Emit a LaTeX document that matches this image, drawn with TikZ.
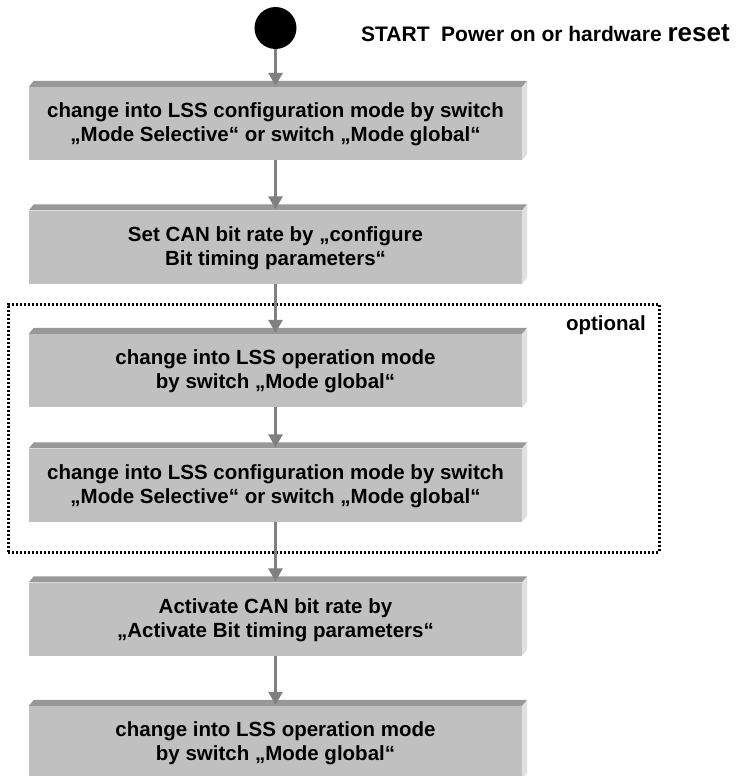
\documentclass[tikz,border=0pt]{standalone}
\usepackage{fontspec}
\setmainfont{Liberation Sans}
\usetikzlibrary{arrows.meta,calc}
\definecolor{facegray}{RGB}{192,192,192}
\definecolor{topgray}{RGB}{152,152,152}
\definecolor{sidegray}{RGB}{224,224,224}
\definecolor{arrowgray}{RGB}{128,128,128}
\tikzset{
  facebox/.style={fill=facegray, minimum width=493pt, minimum height=73pt,
    inner sep=0pt, align=center, font=\fontsize{20.5}{24}\selectfont\bfseries},
  toppart/.style={fill=topgray},
  sidepart/.style={fill=sidegray},
  flowarrow/.style={draw=arrowgray, line width=3pt,
    -{Triangle[width=14pt,length=13pt,fill=arrowgray]}},
  optframe/.style={draw=black, line width=3pt, dash pattern=on 2.4pt off 1.6pt,
    minimum width=651pt, minimum height=248pt, inner sep=0pt},
  labeltext/.style={font=\fontsize{20.5}{24}\selectfont\bfseries, inner sep=0pt}
}
\newcommand\lssbox[3]{%
  \node[facebox] (#1) at (275.5,#2) {\rule{0pt}{17pt}#3};
  \fill[toppart] (#1.north west) -- ([xshift=5pt,yshift=6pt]#1.north west)
     -- ([xshift=5pt,yshift=6pt]#1.north east) -- (#1.north east) -- cycle;
  \fill[sidepart] (#1.north east) -- ([xshift=5pt,yshift=6pt]#1.north east)
     -- ([xshift=5pt,yshift=6pt]#1.south east) -- (#1.south east) -- cycle;
}
\begin{document}
\begin{tikzpicture}[x=1pt,y=-1pt]
\useasboundingbox (0,0) rectangle (738,776);
% optional frame
\node[optframe] (opt) at (333.5,428) {};
\node[labeltext, anchor=base east] (optlabel) at (646,330) {optional};
% start
\node[circle, fill=black, minimum size=42pt, inner sep=0pt] (start) at (275.5,28) {};
\node[labeltext, anchor=base west, font=\fontsize{21}{24}\selectfont\bfseries] (startlabel) at (361,42)
  {START\hspace{0.55em}Power on or hardware {\fontsize{26}{30}\selectfont reset}};
% boxes
\lssbox{b1}{123.5}{change into LSS configuration mode by switch\\„Mode Selective“ or switch „Mode global“}
\lssbox{b2}{247}{Set CAN bit rate by „configure\\Bit timing parameters“}
\lssbox{b3}{370.5}{change into LSS operation mode\\by switch „Mode global“}
\lssbox{b4}{485}{change into LSS configuration mode by switch\\„Mode Selective“ or switch „Mode global“}
\lssbox{b5}{619}{Activate CAN bit rate by\\„Activate Bit timing parameters“}
\lssbox{b6}{742.5}{change into LSS operation mode\\by switch „Mode global“}
% arrows
\draw[flowarrow] (start.south) -- ([yshift=1pt]b1.north);
\draw[flowarrow] (b1.south) -- ([yshift=1pt]b2.north);
\draw[flowarrow] (b2.south) -- ([yshift=1pt]b3.north);
\draw[flowarrow] (b3.south) -- ([yshift=1pt]b4.north);
\draw[flowarrow] (b4.south) -- ([yshift=1pt]b5.north);
\draw[flowarrow] (b5.south) -- ([yshift=1pt]b6.north);
\end{tikzpicture}
\end{document}
